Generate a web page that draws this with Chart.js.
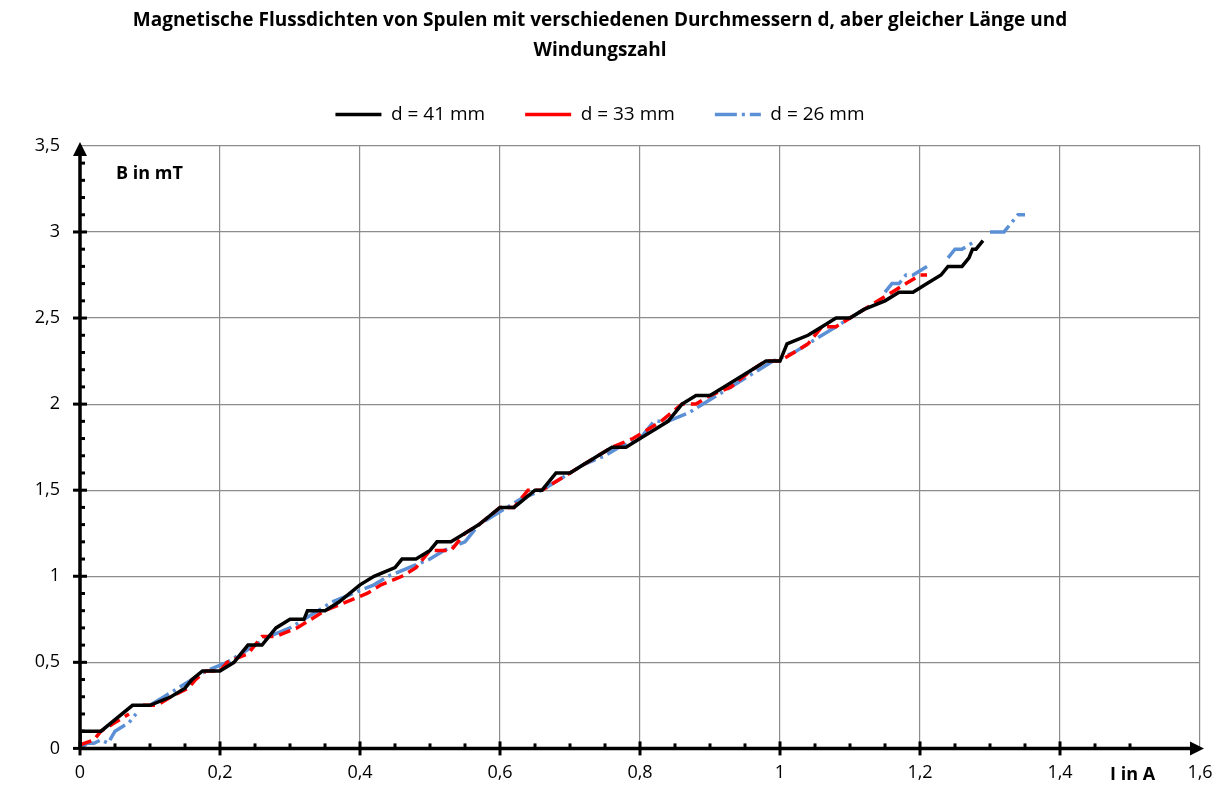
<!DOCTYPE html><html><head><meta charset="utf-8">
<script src="https://cdn.jsdelivr.net/npm/chart.js@4/dist/chart.umd.min.js"></script>
<style>body{margin:0;background:#fff}#w{width:1230px;height:802px}</style></head><body><div id="w"><canvas id="c"></canvas></div>
<script>
const titleLines=["Magnetische Flussdichten von Spulen mit verschiedenen Durchmessern d, aber gleicher Länge und","Windungszahl"];
const seriesNames=["d = 41 mm","d = 33 mm","d = 26 mm"];
const iBlack=[0,0,0.03,0.075,0.1,0.13,0.15,0.16,0.175,0.2,0.22,0.23,0.24,0.26,0.28,0.3,0.32,0.325,0.35,0.37,0.4,0.42,0.45,0.46,0.48,0.5,0.51,0.53,0.55,0.57,0.6,0.62,0.635,0.65,0.66,0.67,0.68,0.7,0.72,0.74,0.76,0.78,0.8,0.82,0.84,0.86,0.88,0.9,0.92,0.96,0.98,1.0,1.01,1.04,1.06,1.08,1.1,1.12,1.15,1.17,1.19,1.21,1.23,1.24,1.26,1.27,1.275,1.28,1.29];
const bBlack=[0,0.1,0.1,0.25,0.25,0.3,0.35,0.4,0.45,0.45,0.5,0.55,0.6,0.6,0.7,0.75,0.75,0.8,0.8,0.85,0.95,1.0,1.05,1.1,1.1,1.15,1.2,1.2,1.25,1.3,1.4,1.4,1.45,1.5,1.5,1.55,1.6,1.6,1.65,1.7,1.75,1.75,1.8,1.85,1.9,2.0,2.05,2.05,2.1,2.2,2.25,2.25,2.35,2.4,2.45,2.5,2.5,2.55,2.6,2.65,2.65,2.7,2.75,2.8,2.8,2.85,2.9,2.9,2.95];
const iRed=[0,0.02,0.03,0.05,0.07,null,0.09,0.11,0.13,0.155,0.165,0.18,0.2,0.21,0.24,0.26,0.28,0.31,0.33,0.35,0.38,0.41,0.43,0.46,0.48,0.5,0.53,0.55,0.57,0.6,0.62,0.64,0.66,0.68,0.7,0.72,0.74,0.76,0.79,0.81,0.83,0.86,0.88,0.9,0.93,0.96,0.98,1.0,1.02,1.04,1.06,1.08,1.1,1.12,1.14,1.16,1.18,1.2,1.21];
const bRed=[0.02,0.05,0.1,0.15,0.2,null,0.25,0.25,0.3,0.35,0.4,0.45,0.45,0.5,0.55,0.65,0.65,0.7,0.75,0.8,0.85,0.9,0.95,1.0,1.05,1.15,1.15,1.25,1.3,1.4,1.4,1.5,1.5,1.55,1.6,1.65,1.7,1.75,1.8,1.85,1.9,2.0,2.0,2.05,2.1,2.2,2.25,2.25,2.3,2.35,2.45,2.45,2.5,2.55,2.6,2.65,2.7,2.75,2.75];
const iBlue=[0,0.01,0.02,0.03,0.04,0.05,0.07,0.08,null,0.1,0.12,0.14,0.16,0.18,0.21,0.23,0.25,0.27,0.3,0.32,0.34,0.36,0.39,0.42,0.44,0.47,0.5,0.52,0.55,0.57,0.59,0.61,0.63,0.66,0.68,0.7,0.72,0.75,0.77,0.8,0.82,0.84,0.87,0.89,0.91,0.93,0.95,0.97,0.99,1.02,1.04,1.06,1.08,1.1,1.12,null,1.15,1.16,1.17,1.18,1.19,1.21,null,1.24,1.25,1.26,1.28,null,1.3,1.32,1.33,1.34,1.35];
const bBlue=[0,0.03,0.03,0.05,0.03,0.1,0.15,0.2,null,0.25,0.3,0.35,0.4,0.45,0.5,0.55,0.6,0.65,0.7,0.75,0.8,0.85,0.9,0.95,1.0,1.05,1.1,1.15,1.2,1.3,1.35,1.4,1.45,1.5,1.55,1.6,1.65,1.7,1.75,1.8,1.9,1.9,1.95,2.0,2.05,2.1,2.15,2.2,2.25,2.3,2.35,2.4,2.45,2.5,2.55,null,2.65,2.7,2.7,2.75,2.75,2.8,null,2.85,2.9,2.9,2.95,null,3.0,3.0,3.05,3.1,3.1];
const xTicks=[0,0.2,0.4,0.6,0.8,1,1.2,1.4,1.6];
const yTicks=[0,0.5,1,1.5,2,2.5,3,3.5];
const pts=(xs,ys)=>xs.map((x,i)=>x===null?{x:NaN,y:null}:{x:x,y:ys[i]});
const fmt=v=>String(+v.toFixed(2)).replace('.',',');
const deco={id:'deco',afterDraw(ch){const c=ch.ctx,a=ch.chartArea,x=ch.scales.x,y=ch.scales.y;c.save();c.strokeStyle='#000';c.fillStyle='#000';c.lineWidth=3.5;
c.beginPath();c.moveTo(a.left,a.bottom);c.lineTo(a.right-8,a.bottom);c.moveTo(a.left,a.bottom);c.lineTo(a.left,a.top+8);c.stroke();
c.beginPath();c.moveTo(a.right+4,a.bottom);c.lineTo(a.right-10,a.bottom-7);c.lineTo(a.right-10,a.bottom+7);c.fill();
c.beginPath();c.moveTo(a.left,a.top-4);c.lineTo(a.left-7,a.top+10);c.lineTo(a.left+7,a.top+10);c.fill();
c.lineWidth=3;for(let v=0;v<=1.55;v+=0.05){const p=x.getPixelForValue(v);const big=Math.abs(v*5-Math.round(v*5))<1e-6;c.beginPath();c.moveTo(p,a.bottom-(big?7:5));c.lineTo(p,a.bottom+(big?7:0));c.stroke();}
for(let v=0;v<=3.45;v+=0.1){const p=y.getPixelForValue(v);const big=Math.abs(v*2-Math.round(v*2))<1e-6;c.beginPath();c.moveTo(a.left-(big?7:0),p);c.lineTo(a.left+(big?7:5),p);c.stroke();}
c.font='bold 18px "Open Sans", sans-serif';c.textBaseline='middle';c.fillText('B in mT',a.left+36,174);c.fillText('I in A',1110,775);c.restore();}};
new Chart(document.getElementById('c'),{type:'line',data:{datasets:[
{label:seriesNames[0],data:pts(iBlack,bBlack),borderColor:'#000',borderWidth:3.5,pointRadius:0},
{label:seriesNames[1],data:pts(iRed,bRed),borderColor:'#ff0000',borderWidth:3.5,borderDash:[12,6],pointRadius:0},
{label:seriesNames[2],data:pts(iBlue,bBlue),borderColor:'#5b8fd6',borderWidth:3.5,borderDash:[22,5,3,5],pointRadius:0}]},
options:{animation:false,responsive:true,maintainAspectRatio:false,spanGaps:false,
layout:{padding:{left:0,right:30,top:0,bottom:4}},
plugins:{title:{display:true,text:titleLines,font:{family:'"Open Sans", sans-serif',size:19,weight:'bold',lineHeight:1.55},color:'#000',padding:{top:6,bottom:0}},
legend:{labels:{font:{family:'"Open Sans", sans-serif',size:19},color:'#000',boxWidth:46,boxHeight:0,padding:40}},tooltip:{enabled:false}},
scales:{x:{type:'linear',min:0,max:1.6,afterBuildTicks:s=>{s.ticks=xTicks.map(v=>({value:v}))},grid:{color:'#8c8c8c',lineWidth:1.2,drawTicks:false},border:{display:false},ticks:{padding:14,color:'#000',font:{family:'"Open Sans", sans-serif',size:18},callback:v=>fmt(v)}},
y:{min:0,max:3.5,afterBuildTicks:s=>{s.ticks=yTicks.map(v=>({value:v}))},afterFit:s=>{s.width=80},grid:{color:'#8c8c8c',lineWidth:1.2,drawTicks:false},border:{display:false},ticks:{padding:20,color:'#000',font:{family:'"Open Sans", sans-serif',size:18},callback:v=>fmt(v)}}}},
plugins:[deco,{id:'legpad',beforeInit(ch){const f=ch.legend.fit;ch.legend.fit=function(){f.call(this);this.height+=12;};}}]});
</script></body></html>
